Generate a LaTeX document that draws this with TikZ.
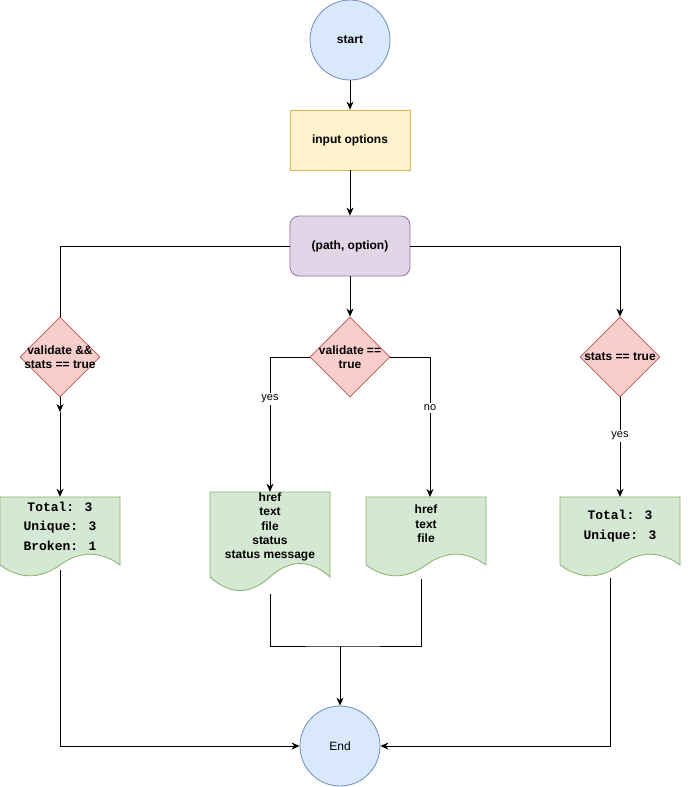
\documentclass[tikz,border=0pt]{standalone}
\usepackage{fontspec}
\setmainfont{Liberation Sans}
\newfontfamily\monofnt{Liberation Mono}
\usetikzlibrary{shapes.geometric,arrows.meta,calc}
\definecolor{bluefill}{HTML}{DAE8FC}\definecolor{bluedraw}{HTML}{6C8EBF}
\definecolor{yelfill}{HTML}{FFF2CC}\definecolor{yeldraw}{HTML}{D6B656}
\definecolor{purfill}{HTML}{E1D5E7}\definecolor{purdraw}{HTML}{9673A6}
\definecolor{redfill}{HTML}{F8CECC}\definecolor{reddraw}{HTML}{B85450}
\definecolor{grnfill}{HTML}{D5E8D4}\definecolor{grndraw}{HTML}{82B366}
\begin{document}
\begin{tikzpicture}[x=1pt,y=-1pt,
  every node/.style={inner sep=0pt, align=center},
  bfont/.style={font=\fontsize{12}{14.4}\selectfont\bfseries},
  circ/.style={circle, minimum size=80pt, fill=bluefill, draw=bluedraw, line width=0.8pt},
  ybox/.style={rectangle, minimum width=120pt, minimum height=60pt, fill=yelfill, draw=yeldraw, line width=0.8pt},
  pbox/.style={rectangle, rounded corners=9pt, minimum width=120pt, minimum height=60pt, fill=purfill, draw=purdraw, line width=0.8pt},
  dia/.style={diamond, aspect=1, minimum width=80pt, minimum height=80pt, fill=redfill, draw=reddraw, line width=0.8pt},
  docshape/.style={fill=grnfill, draw=grndraw, line width=0.8pt},
  docbox/.style={rectangle, minimum width=120pt, draw=none},
  mono/.style={font=\fontsize{13}{19.5}\selectfont\monofnt\bfseries},
  lbl/.style={fill=white, inner sep=1.5pt, font=\fontsize{11}{13}\selectfont},
  conn/.style={line width=1pt, draw=black},
  arr/.style={conn, -{Stealth[length=8pt,width=7pt,inset=2.5pt]}}
]
\useasboundingbox (0,0) rectangle (690,787);

% nodes
\node[circ, bfont] (start) at (350,40) {start};
\node[ybox, bfont] (inp) at (350,140) {input options};
\node[pbox, bfont] (po) at (350,246) {(path, option)};

\node[dia] (dl) at (60,357) {};
\node[bfont] (dlt) at (60,357) {validate \&\&\\stats == true};
\node[dia] (dm) at (350,357) {};
\node[bfont] (dmt) at (350,357) {validate ==\\true};
\node[dia] (dr) at (620,357) {};
\node[bfont] (drt) at (620,357) {stats == true};

% document shapes
\draw[docshape] (0,497) -- (120,497) -- (120,565) .. controls (100,550.6) and (80,550.6) .. (60,565) .. controls (40,579.4) and (20,579.4) .. (0,565) -- cycle;
\draw[docshape] (210,492) -- (330,492) -- (330,577) .. controls (310,559) and (290,559) .. (270,577) .. controls (250,595) and (230,595) .. (210,577) -- cycle;
\draw[docshape] (366,497) -- (486,497) -- (486,565) .. controls (466,550.6) and (446,550.6) .. (426,565) .. controls (406,579.4) and (386,579.4) .. (366,565) -- cycle;
\draw[docshape] (560,497) -- (680,497) -- (680,565) .. controls (660,550.6) and (640,550.6) .. (620,565) .. controls (600,579.4) and (580,579.4) .. (560,565) -- cycle;

\node[docbox, minimum height=80pt] (docL) at (60,537) {};
\node[docbox, minimum height=100pt] (docML) at (270,542) {};
\node[docbox, minimum height=80pt] (docMR) at (426,537) {};
\node[docbox, minimum height=80pt] (docR) at (620,537) {};

\node[mono] (docLt) at (60,526) {Total: 3\\Unique: 3\\Broken: 1};
\node[bfont] (docMLt) at (270,527) {href\\text\\file\\status\\status message};
\node[bfont] (docMRt) at (426,524) {href\\text\\file};
\node[mono] (docRt) at (620,526) {Total: 3\\Unique: 3};

\node[circ, font=\fontsize{12}{14.4}\selectfont] (end) at (340,746) {End};

% coordinates
\coordinate (lmid) at (60,412);
\coordinate (noin) at (430,497);
\coordinate (Lout) at (60,570);
\coordinate (MLout) at (270,594);
\coordinate (MRout) at (421,579);
\coordinate (join) at (340,646);
\coordinate (Rout) at (610,578);

% connectors
\draw[arr] (start) -- (inp);
\draw[arr] (inp) -- (po);
\draw[conn] (po.west) -| (dl.north);
\draw[arr] (po) -- (dm);
\draw[arr] (po.east) -| (dr.north);
\draw[arr] (dl.south) -- (lmid);
\draw[arr] (lmid) -- (docL.north);
\draw[arr] (dm.west) -| (docML.north);
\draw[arr] (dm.east) -| (noin);
\draw[arr] (dr.south) -- (docR.north);
\node[lbl] (yes1) at (270,399) {yes};
\node[lbl] (no1) at (430,408) {no};
\node[lbl] (yes2) at (620,436) {yes};

\draw[arr] (Lout) |- (end.west);
\draw[conn] (MLout) |- (join) -| (MRout);
\draw[arr] (join) -- (end.north);
\draw[arr] (Rout) |- (end.east);
\end{tikzpicture}
\end{document}
